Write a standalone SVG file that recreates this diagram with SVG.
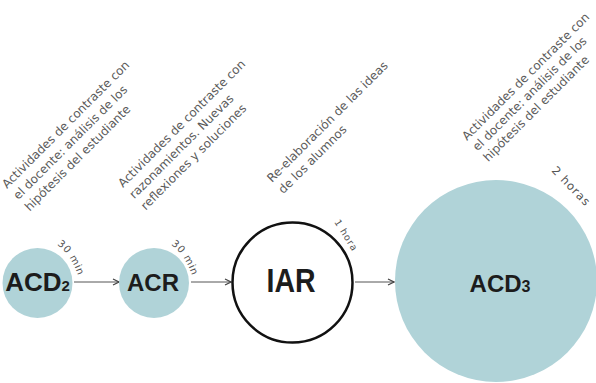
<svg xmlns="http://www.w3.org/2000/svg" width="596" height="383" viewBox="0 0 596 383">
<defs>
<style>
.fill{fill:#b0d3d8}
.lbl{font-family:"DejaVu Sans","Liberation Sans",sans-serif;font-size:12px;fill:#5a5a5a}
.time{font-family:"DejaVu Sans","Liberation Sans",sans-serif;font-size:10px;fill:#555;letter-spacing:0.6px}
.node{font-family:"Liberation Sans","DejaVu Sans",sans-serif;font-weight:bold;fill:#1c1c1c}
.conn{stroke:#555;stroke-width:1;fill:none}
</style>
<marker id="arr" viewBox="0 0 8 8" refX="7" refY="4" markerWidth="8" markerHeight="8" markerUnits="userSpaceOnUse" orient="auto">
<path d="M1,1 L7,4 L1,7" fill="none" stroke="#444" stroke-width="1.2"/>
</marker>
<path id="arc1" d="M 57 245 Q 71 253 80 281" fill="none"/>
<path id="arc2" d="M 171 245 Q 185 253 194 281" fill="none"/>
</defs>

<g id="connectors">
<line class="conn" x1="74" y1="282" x2="119" y2="282" marker-end="url(#arr)"/>
<line class="conn" x1="191" y1="282" x2="231" y2="282" marker-end="url(#arr)"/>
<line class="conn" x1="355" y1="282" x2="394" y2="282" marker-end="url(#arr)"/>
</g>

<g id="node-acd2">
<circle class="fill" cx="37.5" cy="283" r="35"/>
<text class="node" x="37.5" y="291" text-anchor="middle" font-size="26">ACD<tspan font-size="15">2</tspan></text>
<text class="time"><textPath href="#arc1">30 min</textPath></text>
<g class="lbl" transform="translate(7,189) rotate(-45)">
<text x="0" y="0">Actividades de contraste con</text>
<text x="0" y="16">el docente: análisis de los</text>
<text x="0" y="32">hipótesis del estudiante</text>
</g>
</g>

<g id="node-acr">
<circle class="fill" cx="154" cy="283" r="35"/>
<text class="node" x="153" y="291" text-anchor="middle" font-size="24">ACR</text>
<text class="time"><textPath href="#arc2">30 min</textPath></text>
<g class="lbl" transform="translate(123,188) rotate(-45)">
<text x="0" y="0">Actividades de contraste con</text>
<text x="0" y="16">razonamientos. Nuevas</text>
<text x="0" y="32">reflexiones y soluciones</text>
</g>
</g>

<g id="node-iar">
<circle cx="292.5" cy="282.5" r="60" fill="#fff" stroke="#111" stroke-width="2.5"/>
<text class="node" x="291" y="292" text-anchor="middle" font-size="33" textLength="49" lengthAdjust="spacingAndGlyphs">IAR</text>
<text class="time" style="font-size:9.5px;letter-spacing:0.8px" transform="translate(334,222) rotate(58)">1 hora</text>
<g class="lbl" transform="translate(272,183) rotate(-45)">
<text x="0" y="0">Re-elaboración de las ideas</text>
<text x="0" y="16">de los alumnos</text>
</g>
</g>

<g id="node-acd3">
<circle class="fill" cx="496" cy="281" r="101"/>
<text class="node" x="500" y="292" text-anchor="middle" font-size="24">ACD<tspan font-size="16">3</tspan></text>
<text class="time" style="font-size:11.5px;letter-spacing:1px" transform="translate(551,171) rotate(46)">2 horas</text>
<g class="lbl" transform="translate(467,141) rotate(-45)">
<text x="0" y="0">Actividades de contraste con</text>
<text x="0" y="15">el docente: análisis de los</text>
<text x="0" y="30">hipótesis del estudiante</text>
</g>
</g>
</svg>
